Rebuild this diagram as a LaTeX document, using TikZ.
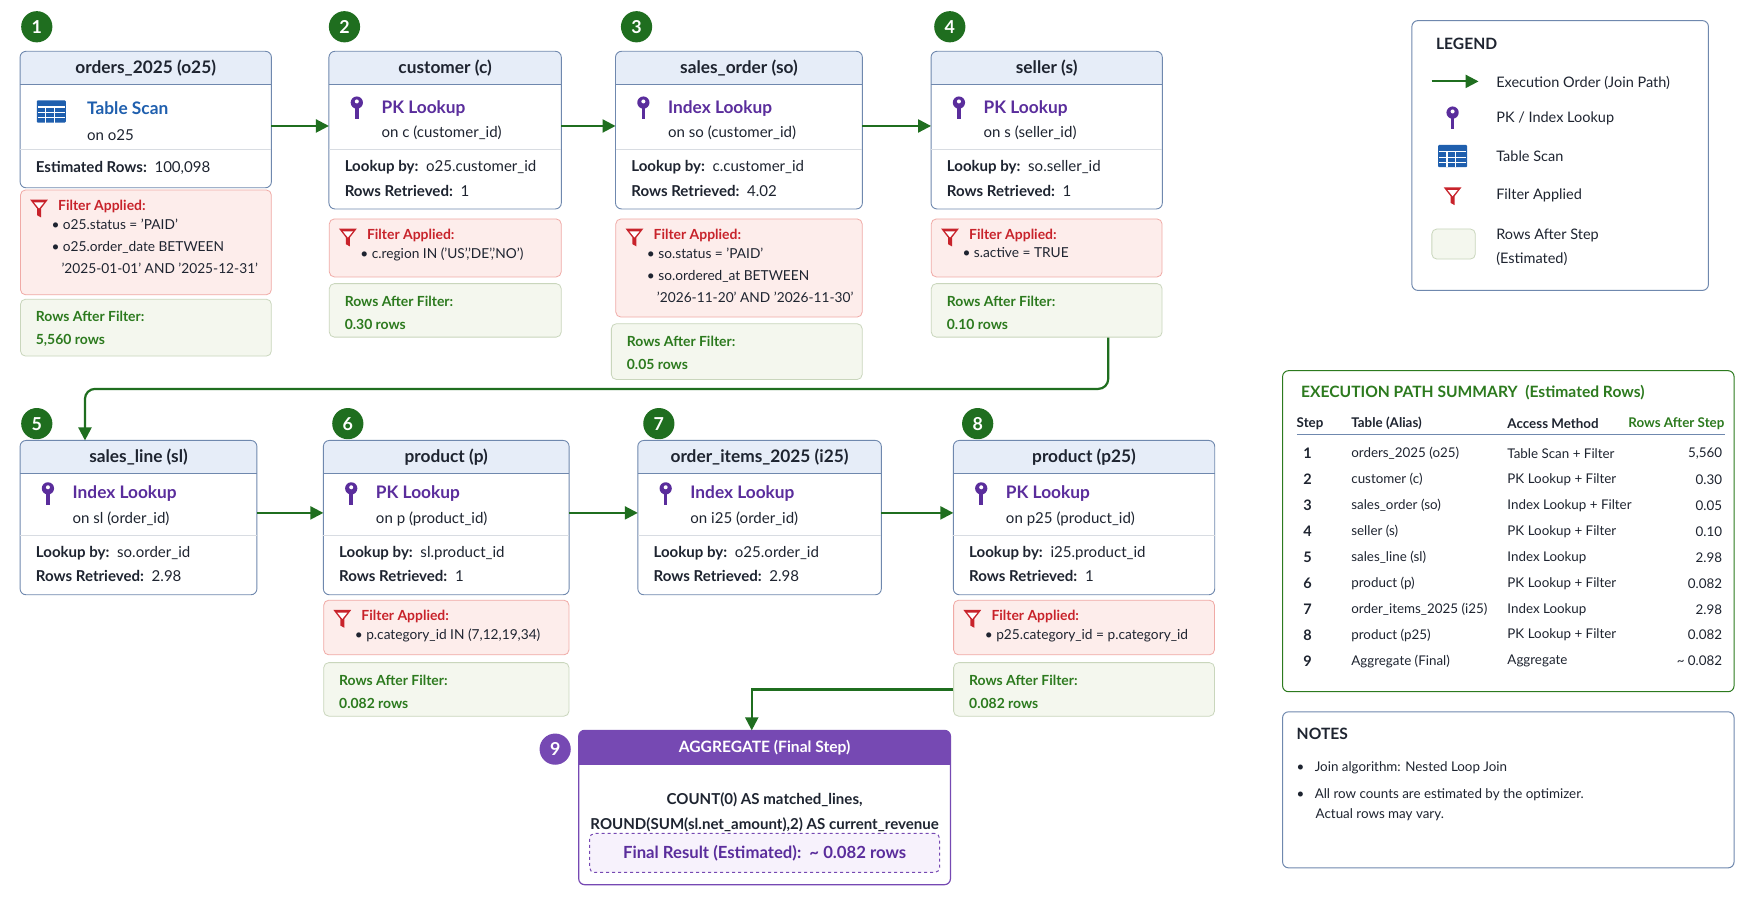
\documentclass[tikz,border=0pt]{standalone}
\usepackage{fontspec}
\setmainfont{Lato}
\usetikzlibrary{arrows.meta}
\definecolor{ink}{HTML}{1E2430}
\definecolor{boxline}{HTML}{6F88AE}
\definecolor{hdrfill}{HTML}{E6EDF8}
\definecolor{sepc}{HTML}{D8DCE2}
\definecolor{purp}{HTML}{5A2D9C}
\definecolor{tblue}{HTML}{1F5FAE}
\definecolor{fred}{HTML}{C8232B}
\definecolor{fltfill}{HTML}{FDEDEB}
\definecolor{fltline}{HTML}{F0AAA6}
\definecolor{rwfill}{HTML}{F4F7EE}
\definecolor{rwline}{HTML}{C9D6BC}
\definecolor{dgreen}{HTML}{1F6E1F}
\definecolor{tgreen}{HTML}{2C7A1E}
\definecolor{aggp}{HTML}{7649B3}
\definecolor{aggfill}{HTML}{F7F2FC}
\tikzset{
 x=1pt,y=-1pt,
 panel/.style={fill=white, anchor=north west, inner sep=0},
 ttl/.style={font=\fontsize{15.5}{18}\selectfont\bfseries, text=ink, inner sep=0},
 txt/.style={anchor=west, font=\fontsize{13.5}{16}\selectfont, text=ink, inner sep=0},
 act/.style={anchor=west, inner sep=0, font=\fontsize{15.5}{18}\selectfont\bfseries, text=purp},
 sep/.style={draw=sepc, line width=0.8},
 flt/.style={draw=fltline, fill=fltfill, rounded corners=5, anchor=north west, inner sep=0, line width=0.8},
 ftitle/.style={anchor=west, inner sep=0, font=\fontsize{12.5}{15}\selectfont\bfseries, text=fred},
 fbody/.style={anchor=north west, inner sep=0, align=left, font=\fontsize{12.3}{20}\selectfont, text=ink},
 rws/.style={draw=rwline, fill=rwfill, rounded corners=5, anchor=north west, inner sep=0, line width=0.8},
 rtxt/.style={anchor=west, inner sep=0, font=\fontsize{12.5}{15}\selectfont\bfseries, text=tgreen},
 badge/.style={circle, fill=dgreen, text=white, minimum size=28, inner sep=0, font=\fontsize{16}{18}\selectfont\bfseries},
 flow/.style={draw=dgreen, line width=2.2, -{Triangle[length=13,width=13]}},
 side/.style={draw=boxline, line width=1, rounded corners=6, fill=white, anchor=north west, inner sep=0},
 hd/.style={anchor=west, inner sep=0, font=\fontsize{14}{16}\selectfont\bfseries, text=ink},
 sm/.style={anchor=west, inner sep=0, font=\fontsize{12}{14}\selectfont, text=ink},
 smb/.style={anchor=west, inner sep=0, font=\fontsize{12}{14}\selectfont\bfseries, text=ink},
}
\newcommand\keyicon[1]{\begin{scope}[shift={(#1)}]\fill[purp] (0,-5) circle (5.5); \fill[white] (0,-6) circle (1.8); \fill[purp] (-1.6,-1) rectangle (1.6,10);\end{scope}}
\newcommand\funnel[1]{\begin{scope}[shift={(#1)}]\fill[fred] (-8,-7) -- (8,-7) -- (1.8,1) -- (1.8,9) -- (-1.8,7) -- (-1.8,1) -- cycle; \fill[white] (-4.5,-4.5) -- (4.5,-4.5) -- (0,1) -- cycle;\end{scope}}
\newcommand\tblicon[1]{\begin{scope}[shift={(#1)}]\fill[tblue,rounded corners=1] (-13,-10) rectangle (13,10);
 \draw[white,line width=1.1] (-12,-4) -- (12,-4) (-12,1) -- (12,1) (-12,5.5) -- (12,5.5) (-5,-4) -- (-5,10) (3,-4) -- (3,10);\end{scope}}
\newcommand\mainbox[6]{%
 \node[panel, minimum width=#4, minimum height=#5] (#1) at (#2,#3) {};
 \fill[hdrfill] ([shift={(0,30)}]#1.north west) [rounded corners=6]-- (#1.north west) -- (#1.north east) [sharp corners]-- ([shift={(0,30)}]#1.north east) -- cycle;
 \draw[boxline, line width=1.2] ([shift={(0,30)}]#1.north west) -- ([shift={(0,30)}]#1.north east);
 \draw[boxline, line width=0.9, rounded corners=6] (#1.north west) rectangle (#1.south east);
 \node[ttl] (#1t) at ([shift={(0,15)}]#1.north) {#6};
}
\newcommand\lk[6]{%
 \keyicon{[shift={(25,#2)}]#1.north west}
 \node[act] (#1a) at ([shift={(47,#2)}]#1.north west) {#3};
 \node[txt] (#1o) at ([shift={(47,#2+22)}]#1.north west) {#4};
 \draw[sep] ([shift={(0,#2+37)}]#1.north west) -- ([shift={(0,#2+37)}]#1.north east);
 \node[txt] (#1l) at ([shift={(14,#2+53)}]#1.north west) {\textbf{Lookup by:}\ \ #5};
 \node[txt] (#1r) at ([shift={(14,#2+74)}]#1.north west) {\textbf{Rows Retrieved:}\ \ #6};
}
\newcommand\fltbox[6]{%
 \node[flt, minimum width=#4, minimum height=#5] (#1) at (#2,#3) {};
 \funnel{[shift={(17,16)}]#1.north west}
 \node[ftitle] (#1t) at ([shift={(34,15)}]#1.north west) {Filter Applied:};
 \node[fbody] (#1b) at ([shift={(28,26)}]#1.north west) {#6};
}
\newcommand\rwbox[6]{%
 \node[rws, minimum width=#4, minimum height=#5] (#1) at (#2,#3) {};
 \node[rtxt] (#1t) at ([shift={(14,16)}]#1.north west) {Rows After Filter:};
 \node[rtxt] (#1v) at ([shift={(14,37)}]#1.north west) {#6};
}
\newcommand\ind{\hspace*{9pt}}
\begin{document}
\begin{tikzpicture}[scale=1.1148, every node/.append style={transform shape}]
\useasboundingbox[fill=white] (0,0) rectangle (1568,807.3);
% badges
\node[badge] (n1) at (33,24) {1};
\node[badge] (n2) at (309,24) {2};
\node[badge] (n3) at (571,24) {3};
\node[badge] (n4) at (852,24) {4};
\node[badge] (n5) at (33,380) {5};
\node[badge] (n6) at (312,380) {6};
\node[badge] (n7) at (591,380) {7};
\node[badge] (n8) at (877,380) {8};
\node[badge, fill=aggp] (n9) at (498,672) {9};
% row 1
\mainbox{b1}{18}{46}{225}{122}{orders\_2025 (o25)}
\tblicon{[shift={(28,54)}]b1.north west}
\node[act, text=tblue] (b1a) at ([shift={(60,51)}]b1.north west) {Table Scan};
\node[txt] (b1o) at ([shift={(60,75)}]b1.north west) {on o25};
\draw[sep] ([shift={(0,88)}]b1.north west) -- ([shift={(0,88)}]b1.north east);
\node[txt] (b1e) at ([shift={(14,105)}]b1.north west) {\textbf{Estimated Rows:}\ \ 100,098};
\fltbox{f1}{18}{170}{225}{94}{\textbullet\ o25.status = 'PAID'\\\textbullet\ o25.order\_date BETWEEN\\\ind '2025-01-01' AND '2025-12-31'}
\rwbox{r1}{18}{268}{225}{51}{5,560 rows}

\mainbox{b2}{295}{46}{208}{141}{customer (c)}
\lk{b2}{51}{PK Lookup}{on c (customer\_id)}{o25.customer\_id}{1}
\fltbox{f2}{295}{196}{208}{52}{\textbullet\ c.region IN ('US','DE','NO')}
\rwbox{r2}{295}{254}{208}{48}{0.30 rows}

\mainbox{b3}{552}{46}{221}{141}{sales\_order (so)}
\lk{b3}{51}{Index Lookup}{on so (customer\_id)}{c.customer\_id}{4.02}
\fltbox{f3}{552}{196}{221}{88}{\textbullet\ so.status = 'PAID'\\\textbullet\ so.ordered\_at BETWEEN\\\ind '2026-11-20' AND '2026-11-30'}
\rwbox{r3}{548}{290}{225}{50}{0.05 rows}

\mainbox{b4}{835}{46}{207}{141}{seller (s)}
\lk{b4}{51}{PK Lookup}{on s (seller\_id)}{so.seller\_id}{1}
\fltbox{f4}{835}{196}{207}{52}{\textbullet\ s.active = TRUE}
\rwbox{r4}{835}{254}{207}{48}{0.10 rows}

% row 2
\mainbox{b5}{18}{395}{212}{138}{sales\_line (sl)}
\lk{b5}{48}{Index Lookup}{on sl (order\_id)}{so.order\_id}{2.98}
\mainbox{b6}{290}{395}{220}{138}{product (p)}
\lk{b6}{48}{PK Lookup}{on p (product\_id)}{sl.product\_id}{1}
\fltbox{f6}{290}{538}{220}{49}{\textbullet\ p.category\_id IN (7,12,19,34)}
\rwbox{r6}{290}{594}{220}{48}{0.082 rows}
\mainbox{b7}{572}{395}{218}{138}{order\_items\_2025 (i25)}
\lk{b7}{48}{Index Lookup}{on i25 (order\_id)}{o25.order\_id}{2.98}
\mainbox{b8}{855}{395}{234}{138}{product (p25)}
\lk{b8}{48}{PK Lookup}{on p25 (product\_id)}{i25.product\_id}{1}
\fltbox{f8}{855}{538}{234}{49}{\textbullet\ p25.category\_id = p.category\_id}
\rwbox{r8}{855}{594}{234}{48}{0.082 rows}

% aggregate
\node[panel, minimum width=333, minimum height=138] (agg) at (519,655) {};
\fill[aggp] ([shift={(0,31)}]agg.north west) [rounded corners=6]-- (agg.north west) -- (agg.north east) [sharp corners]-- ([shift={(0,31)}]agg.north east) -- cycle;
\draw[aggp, line width=1.2, rounded corners=6] (agg.north west) rectangle (agg.south east);
\node[ttl, text=white, font=\fontsize{14}{16}\selectfont\bfseries] (aggt) at ([shift={(0,15.5)}]agg.north) {AGGREGATE (Final Step)};
\node[ttl, font=\fontsize{13.5}{16}\selectfont\bfseries] (agg1) at ([shift={(0,62)}]agg.north) {COUNT(0) AS matched\_lines,};
\node[ttl, font=\fontsize{13.5}{16}\selectfont\bfseries] (agg2) at ([shift={(0,85)}]agg.north) {ROUND(SUM(sl.net\_amount),2) AS current\_revenue};
\node[draw=aggp, dashed, line width=1, fill=aggfill, rounded corners=5, minimum width=314, minimum height=35, inner sep=0, font=\fontsize{15}{18}\selectfont\bfseries, text=purp] (fin) at ([shift={(0,110)}]agg.north) {Final Result (Estimated):\ \ \textasciitilde\ 0.082 rows};

% connectors
\draw[flow] ([shift={(0,67)}]b1.north east) -- ([shift={(0,67)}]b2.north west);
\draw[flow] ([shift={(0,67)}]b2.north east) -- ([shift={(0,67)}]b3.north west);
\draw[flow] ([shift={(0,67)}]b3.north east) -- ([shift={(0,67)}]b4.north west);
\draw[flow, rounded corners=10] ([shift={(55,0)}]r4.south) -- ++(0,46) -| ([shift={(-48,0)}]b5.north);
\draw[flow] ([shift={(0,65)}]b5.north east) -- ([shift={(0,65)}]b6.north west);
\draw[flow] ([shift={(0,65)}]b6.north east) -- ([shift={(0,65)}]b7.north west);
\draw[flow] ([shift={(0,65)}]b7.north east) -- ([shift={(0,65)}]b8.north west);
\draw[flow] (r8.west) -| ([shift={(-11.5,0)}]agg.north);

% legend
\node[side, minimum width=266, minimum height=242] (leg) at (1266,18) {};
\node[hd] (legt) at (1288,39) {LEGEND};
\coordinate (la1) at (1284,73); \coordinate (la2) at (1326,73);
\draw[flow] (la1) -- (la2);
\node[txt, font=\fontsize{13}{16}\selectfont] (l1) at (1342,74) {Execution Order (Join Path)};
\keyicon{1303,106}
\node[txt, font=\fontsize{13}{16}\selectfont] (l2) at (1342,106) {PK / Index Lookup};
\tblicon{1303,140}
\node[txt, font=\fontsize{13}{16}\selectfont] (l3) at (1342,140) {Table Scan};
\funnel{1303,175}
\node[txt, font=\fontsize{13}{16}\selectfont] (l4) at (1342,175) {Filter Applied};
\node[rws, minimum width=39, minimum height=27] (l5b) at (1284,205) {};
\node[txt, font=\fontsize{13}{16}\selectfont] (l5) at (1342,211) {Rows After Step};
\node[txt, font=\fontsize{13}{16}\selectfont] (l6) at (1342,232) {(Estimated)};

% summary
\node[side, draw=tgreen, minimum width=405, minimum height=288] (sum) at (1150,332) {};
\node[hd, text=tgreen] (sumt) at (1167,352) {EXECUTION PATH SUMMARY\ \ (Estimated Rows)};
\node[smb] (h1) at (1163,380) {Step};
\node[smb] (h2) at (1212,380) {Table (Alias)};
\node[smb] (h3) at (1352,380) {Access Method};
\node[smb, anchor=east, text=tgreen] (h4) at (1547,380) {Rows After Step};
\coordinate (hl1) at (1163,390); \coordinate (hl2) at (1547,390);
\draw[boxline, line width=0.8] (hl1) -- (hl2);
\foreach \t/\m/\r [count=\i] in {orders\_2025 (o25)/Table Scan + Filter/{5,560},customer (c)/PK Lookup + Filter/0.30,sales\_order (so)/Index Lookup + Filter/0.05,seller (s)/PK Lookup + Filter/0.10,sales\_line (sl)/Index Lookup/2.98,product (p)/PK Lookup + Filter/0.082,order\_items\_2025 (i25)/Index Lookup/2.98,product (p25)/PK Lookup + Filter/0.082,Aggregate (Final)/Aggregate/\textasciitilde\ 0.082}{
 \node[smb, anchor=center, font=\fontsize{13}{14}\selectfont\bfseries] (s\i) at (1173,407+23.25*\i-23.25) {\i};
 \node[sm] (t\i) at (1212,407+23.25*\i-23.25) {\t};
 \node[sm] (m\i) at (1352,407+23.25*\i-23.25) {\m};
 \node[sm, anchor=east] (v\i) at (1545,407+23.25*\i-23.25) {\r};
}

% notes
\node[side, minimum width=405, minimum height=140] (notes) at (1150,638) {};
\node[hd] (nt) at (1163,658) {NOTES};
\node[sm] (nb1) at (1163,689) {\textbullet\ \ \ Join algorithm: Nested Loop Join};
\node[sm] (nb2) at (1163,713) {\textbullet\ \ \ All row counts are estimated by the optimizer.};
\node[sm] (nb3) at (1180,731) {Actual rows may vary.};
\end{tikzpicture}
\end{document}
